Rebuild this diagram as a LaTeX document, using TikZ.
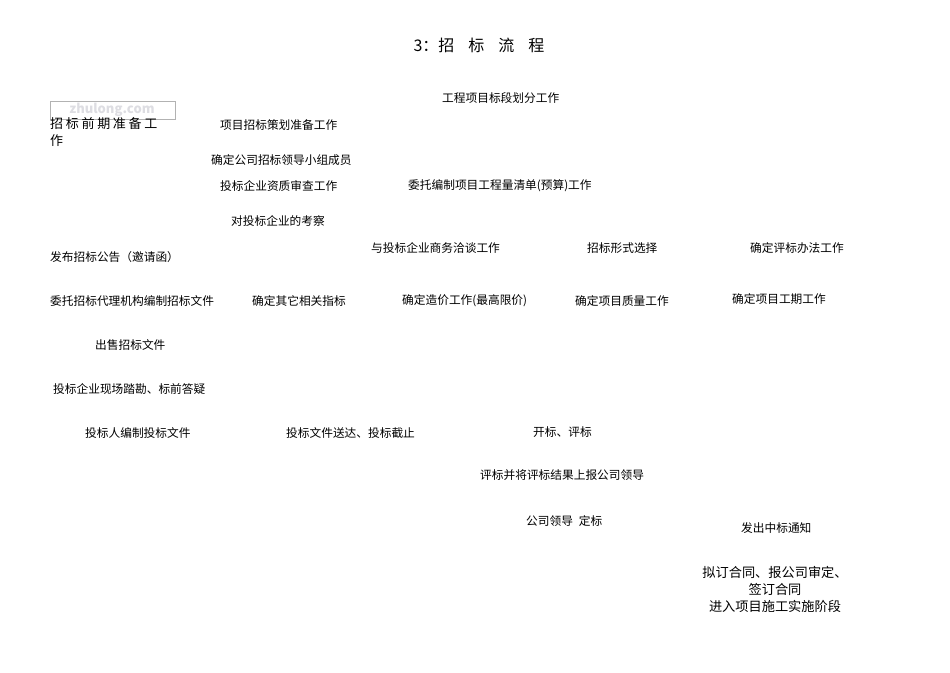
\documentclass[tikz,border=0pt]{standalone}
\usepackage{fontspec}
\setmainfont{Noto Sans CJK SC}
\usetikzlibrary{positioning}
\newcommand{\Gap}{\hspace{14pt}}

\begin{document}
\begin{tikzpicture}[x=1pt, y=-1pt,
                    step label/.style={anchor=west, inner sep=0pt,
                        font=\fontsize{11.7}{14}\selectfont},
                    big label/.style={inner sep=0pt, align=center,
                        font=\fontsize{13.2}{17}\selectfont}]

                \useasboundingbox (0,0) rectangle (950,672);

                % title and watermark
                \draw(479,45) node (title) {\fontsize{16}{18}\selectfont 3：招\Gap 标\Gap 流\Gap 程};
                \draw[gray!60, fill=white] (50,101) rectangle (175,119);
                \draw(112,110) node[text=blue!8!gray!25, font=\bfseries\fontsize{13}{14}\selectfont] (mark) {zhulong.com};

                % preparation stage
                \draw(50,132) node[anchor=west, inner sep=0pt, align=left,
                    font=\fontsize{13}{17}\selectfont] (prep)
                    {招\kern2.7pt 标\kern2.7pt 前\kern2.7pt 期\kern2.7pt 准\kern2.7pt 备\kern2.7pt 工\\作};
                \draw(442,98) node[step label] (split) {工程项目标段划分工作};
                \draw(220,125) node[step label] (plan) {项目招标策划准备工作};
                \draw(211,160) node[step label] (team) {确定公司招标领导小组成员};
                \draw(220,186) node[step label] (qual) {投标企业资质审查工作};
                \draw(408,186) node[step label] (bill) {委托编制项目工程量清单(预算)工作};
                \draw(231,221) node[step label] (visit) {对投标企业的考察};

                % bidding documents
                \draw(50,257) node[step label] (notice) {发布招标公告（邀请函）};
                \draw(371,248) node[step label] (talk) {与投标企业商务洽谈工作};
                \draw(587,248) node[step label] (form) {招标形式选择};
                \draw(750,248) node[step label] (method) {确定评标办法工作};
                \draw(50,301) node[step label] (agent) {委托招标代理机构编制招标文件};
                \draw(252,301) node[step label] (index) {确定其它相关指标};
                \draw(402,301) node[step label] (price) {确定造价工作(最高限价)};
                \draw(575,301) node[step label] (quality) {确定项目质量工作};
                \draw(732,299) node[step label] (period) {确定项目工期工作};

                % bidding and award
                \draw(95,345) node[step label] (sell) {出售招标文件};
                \draw(53,389) node[step label] (site) {投标企业现场踏勘、标前答疑};
                \draw(85,433) node[step label] (write) {投标人编制投标文件};
                \draw(286,433) node[step label] (deliver) {投标文件送达、投标截止};
                \draw(533,432) node[step label] (open) {开标、评标};
                \draw(480,475) node[step label] (report) {评标并将评标结果上报公司领导};
                \draw(526,521) node[step label] (decide) {公司领导\hspace{6pt}定标};
                \draw(741,528) node[step label] (win) {发出中标通知};
                \draw(775,589) node[big label] (contract)
                    {拟订合同、报公司审定、\\签订合同\\进入项目施工实施阶段};

            \end{tikzpicture}
\end{document}
